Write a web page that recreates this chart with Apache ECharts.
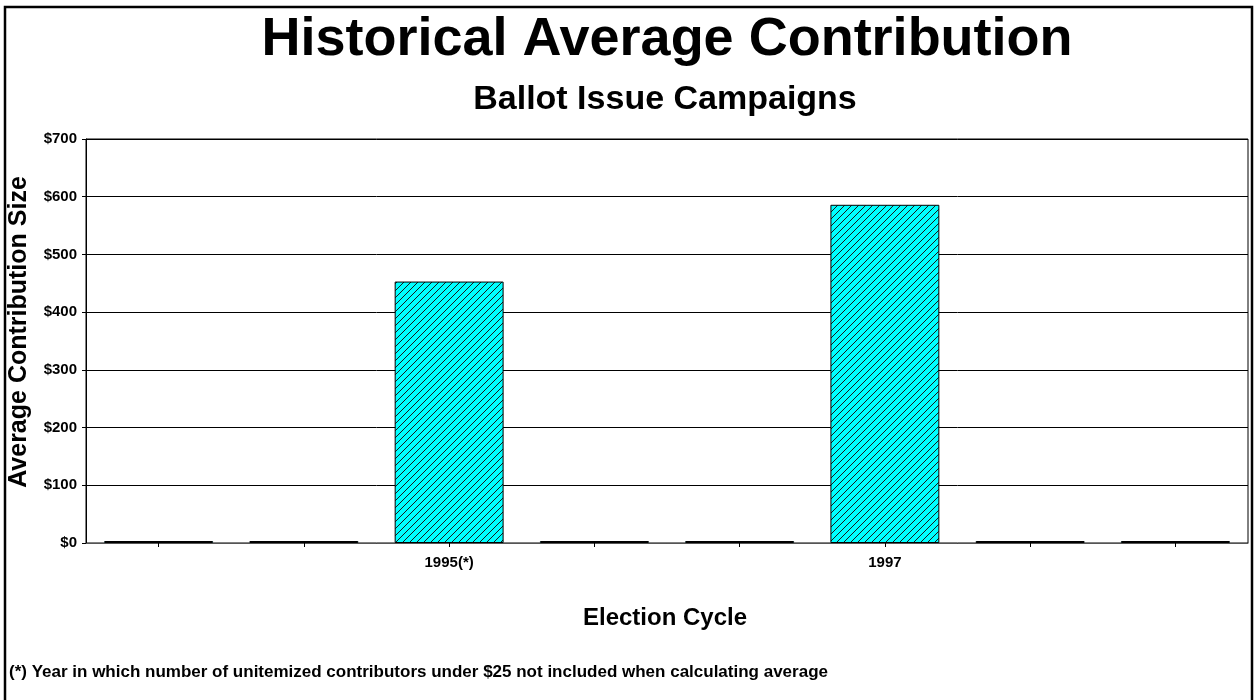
<!DOCTYPE html>
<html>
<head>
<meta charset="utf-8">
<script src="https://cdn.jsdelivr.net/npm/echarts@6/dist/echarts.min.js"></script>
<style>
  html, body { margin: 0; padding: 0; background: #fff; }
  #chart { width: 1254px; height: 700px; }
</style>
</head>
<body>
<div id="chart"></div>
<script>
// ---- data ----
const categories = ['', '', '1995(*)', '', '', '1997', '', ''];
const averageContribution = [0, 0, 453, 0, 0, 586, 0, 0];
const yTicks = [0, 100, 200, 300, 400, 500, 600, 700];
const titleText = 'Historical Average Contribution';
const subtitleText = 'Ballot Issue Campaigns';
const xAxisTitle = 'Election Cycle';
const yAxisTitle = 'Average Contribution Size';
const footnoteText = '(*) Year in which number of unitemized contributors under $25 not included when calculating average';

// ---- hatch pattern ----
function makeHatch() {
  const s = 7;
  const c = document.createElement('canvas');
  c.width = s; c.height = s;
  const ctx = c.getContext('2d');
  ctx.fillStyle = '#00FFFF';
  ctx.fillRect(0, 0, s, s);
  ctx.strokeStyle = '#1a1a1a';
  ctx.lineWidth = 1;
  ctx.beginPath();
  ctx.moveTo(-1, s + 1); ctx.lineTo(s + 1, -1);
  ctx.moveTo(-1, 1); ctx.lineTo(1, -1);
  ctx.moveTo(s - 1, s + 1); ctx.lineTo(s + 1, s - 1);
  ctx.stroke();
  return c;
}

const FONT = "'Liberation Sans', Arial, Helvetica, sans-serif";
const chart = echarts.init(document.getElementById('chart'), null, { renderer: 'canvas' });

chart.setOption({
  backgroundColor: '#ffffff',
  animation: false,
  grid: {
    left: 86, right: 6, top: 139, bottom: 157,
    show: true, borderColor: '#000', borderWidth: 1, backgroundColor: 'transparent'
  },
  xAxis: {
    type: 'category',
    data: categories,
    axisLine: { lineStyle: { color: '#555', width: 1 } },
    axisTick: { show: true, alignWithLabel: true, length: 4, lineStyle: { color: '#000' } },
    axisLabel: { interval: 0, margin: 12, color: '#000', fontFamily: FONT, fontWeight: 'bold', fontSize: 15 },
    splitLine: { show: false }
  },
  yAxis: {
    type: 'value',
    min: yTicks[0], max: yTicks[yTicks.length - 1], interval: 100,
    axisLine: { show: true, lineStyle: { color: '#000', width: 1 } },
    axisTick: { show: true, length: 4, lineStyle: { color: '#000' } },
    axisLabel: { margin: 9, color: '#000', fontFamily: FONT, fontWeight: 'bold', fontSize: 15,
      formatter: v => '$' + v },
    splitLine: { show: true, lineStyle: { color: '#000', width: 1 } }
  },
  series: [{
    type: 'bar',
    data: averageContribution,
    barCategoryGap: '25%',
    barMinHeight: 2,
    itemStyle: {
      color: { image: makeHatch(), repeat: 'repeat' },
      borderColor: '#000', borderWidth: 1
    }
  }],
  graphic: [
    { type: 'rect', silent: true, z: 100,
      shape: { x: 5, y: 7, width: 1247, height: 720 },
      style: { fill: 'none', stroke: '#000', lineWidth: 2.5 } },
    { type: 'text', x: 667, y: 40, z: 100,
      style: { text: titleText, textAlign: 'center', textVerticalAlign: 'middle',
        font: "bold 54px " + FONT, fill: '#000' } },
    { type: 'text', x: 665, y: 100, z: 100,
      style: { text: subtitleText, textAlign: 'center', textVerticalAlign: 'middle',
        font: "bold 34px " + FONT, fill: '#000' } },
    { type: 'text', x: 665, y: 618, z: 100,
      style: { text: xAxisTitle, textAlign: 'center', textVerticalAlign: 'middle',
        font: "bold 24px " + FONT, fill: '#000' } },
    { type: 'text', x: 19, y: 332, rotation: Math.PI / 2, z: 100,
      style: { text: yAxisTitle, textAlign: 'center', textVerticalAlign: 'middle',
        font: "bold 25px " + FONT, fill: '#000' } },
    { type: 'text', x: 9, y: 672, z: 100,
      style: { text: footnoteText, textAlign: 'left', textVerticalAlign: 'middle',
        font: "bold 17px " + FONT, fill: '#000' } }
  ]
});
</script>
</body>
</html>
